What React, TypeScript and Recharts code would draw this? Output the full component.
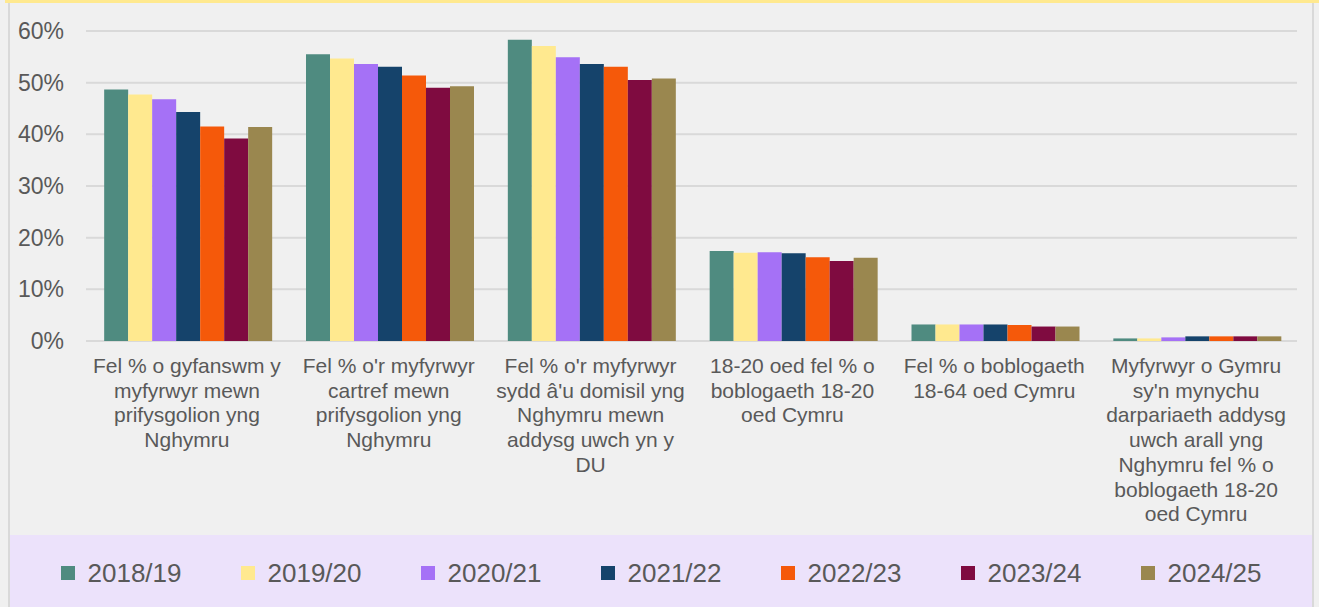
import React from 'react';
import { BarChart, Bar, XAxis, YAxis, CartesianGrid, Legend } from 'recharts';

const categories = [
  "Fel % o gyfanswm y\nmyfyrwyr mewn\nprifysgolion yng\nNghymru",
  "Fel % o'r myfyrwyr\ncartref mewn\nprifysgolion yng\nNghymru",
  "Fel % o'r myfyrwyr\nsydd â'u domisil yng\nNghymru mewn\naddysg uwch yn y\nDU",
  "18-20 oed fel % o\nboblogaeth 18-20\noed Cymru",
  "Fel % o boblogaeth\n18-64 oed Cymru",
  "Myfyrwyr o Gymru\nsy'n mynychu\ndarpariaeth addysg\nuwch arall yng\nNghymru fel % o\nboblogaeth 18-20\noed Cymru",
];

const years = ["2018/19", "2019/20", "2020/21", "2021/22", "2022/23", "2023/24", "2024/25"];
const colors = ["#4F8B80", "#FFE98F", "#A571F6", "#15436B", "#F5590A", "#7F0B40", "#9A874F"];

const v201819 = [48.7, 55.5, 58.3, 17.4, 3.2, 0.5];
const v201920 = [47.7, 54.7, 57.1, 17.1, 3.2, 0.5];
const v202021 = [46.8, 53.6, 54.9, 17.2, 3.2, 0.7];
const v202122 = [44.3, 53.1, 53.6, 17.0, 3.2, 0.9];
const v202223 = [41.5, 51.4, 53.1, 16.2, 3.1, 0.9];
const v202324 = [39.2, 49.0, 50.5, 15.5, 2.8, 0.9];
const v202425 = [41.4, 49.3, 50.8, 16.1, 2.8, 0.9];

const seriesValues = [v201819, v201920, v202021, v202122, v202223, v202324, v202425];
const yTicks = [0, 10, 20, 30, 40, 50, 60];

const data = categories.map((c, i) => {
  const row: any = { name: c };
  years.forEach((y, j) => { row[y] = seriesValues[j][i]; });
  return row;
});

const FONT = '"Liberation Sans", Arial, sans-serif';

const CategoryTick = (props: any) => {
  const { x, y, payload } = props;
  const lines = String(payload.value).split('\n');
  return (
    <text x={x} y={y} textAnchor="middle" fill="#595959" fontSize={21} fontFamily={FONT}>
      {lines.map((l, i) => (
        <tspan key={i} x={x} dy={i === 0 ? 32 : 24.7}>{l}</tspan>
      ))}
    </text>
  );
};

const renderLegend = () => (
  <div style={{
    height: 72, background: '#ECE2FB', display: 'flex', alignItems: 'center',
    justifyContent: 'center', fontFamily: FONT, fontSize: 26, color: '#595959',
  }}>
    {years.map((y, i) => (
      <div key={y} style={{ display: 'flex', alignItems: 'center', width: i === years.length - 1 ? 'auto' : 180, paddingTop: 4 }}>
        <span style={{ display: 'inline-block', width: 14, height: 14, background: colors[i], marginRight: 13 }} />
        <span style={{ lineHeight: '30px' }}>{y}</span>
      </div>
    ))}
  </div>
);

export default function App() {
  return (
    <div style={{ position: 'fixed', left: 0, top: 0, width: 1319, height: 607, background: '#F0F0F0', overflow: 'hidden' }}>
      <div style={{ position: 'absolute', left: 5, top: 0, width: 1314, height: 3, background: '#FFE98F' }} />
      <div style={{ position: 'absolute', left: 8, top: 3, width: 2, height: 604, background: '#D9D9D9' }} />
      <div style={{ position: 'absolute', left: 1312, top: 3, width: 2, height: 604, background: '#D9D9D9' }} />
      <div style={{ position: 'absolute', left: 0, top: 0 }}>
        <BarChart
          width={1319}
          height={607}
          data={data}
          margin={{ top: 31, right: 22, left: 16, bottom: 0 }}
          barCategoryGap="9%"
          barGap={0}
        >
          <CartesianGrid vertical={false} stroke="#D9D9D9" strokeWidth={2} />
          <XAxis
            dataKey="name"
            axisLine={false}
            tickLine={false}
            tickSize={0}
            tickMargin={0}
            interval={0}
            height={194}
            tick={<CategoryTick />}
          />
          <YAxis
            domain={[0, 60]}
            ticks={yTicks}
            width={70}
            axisLine={false}
            tickLine={false}
            tickSize={0}
            tickMargin={22}
            tickFormatter={(v: number) => `${v}%`}
            tick={{ fill: '#595959', fontSize: 23, fontFamily: FONT }}
          />
          <Legend
            verticalAlign="bottom"
            content={renderLegend}
            wrapperStyle={{ left: 10, width: 1302, bottom: 0, height: 72 }}
          />
          {years.map((y, i) => (
            <Bar key={y} dataKey={y} fill={colors[i]} isAnimationActive={false} />
          ))}
        </BarChart>
      </div>
    </div>
  );
}
